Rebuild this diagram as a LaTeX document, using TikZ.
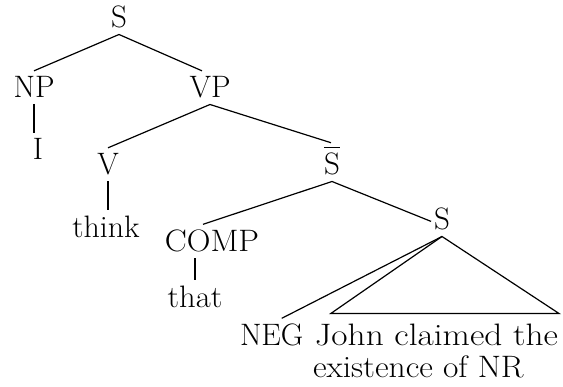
\documentclass[tikz,border=0pt]{standalone}
\usepackage{graphicx}
\usetikzlibrary{calc}
% S with a bar over it, built from text so it scales with the font
\newcommand{\barredS}{\setbox0\hbox{S}\vbox{\hrule width\wd0 height 1.6pt\kern5pt\box0}}
\begin{document}
\begin{tikzpicture}[x=1pt,y=-1pt,
  lab/.style={inner sep=0pt, outer xsep=0pt, outer ysep=6pt, anchor=base,
              font=\fontsize{31}{37}\selectfont},
  branch/.style={line width=1.2pt}]
\useasboundingbox (0,0) rectangle (563,387);
% category labels
\node[lab] (s)     at (119,28)  {S};
\node[lab] (np)    at (34,98)   {NP};
\node[lab] (vp)    at (210,98)  {VP};
\node[lab] (i)     at (38,160)  {I};
\node[lab] (v)     at (108,175) {V};
\node[lab] (think) at (106,238) {\scalebox{1.03}[1]{think}};
\node[lab] (sbar)  at (332,175) {\barredS};
\node[lab] (comp)  at (212,252) {\scalebox{1.06}[1]{COMP}};
\node[lab] (that)  at (195,308) {\scalebox{1.05}[1]{that}};
\node[lab] (s2)    at (442,230) {S};
\node[lab, anchor=base west] (neg)   at (240,346) {NEG};
\node[lab, anchor=base east] (john)  at (558,346) {\scalebox{1.14}[1]{John claimed the}};
\node[lab, anchor=base west] (exist) at (313,378) {\scalebox{1.08}[1]{existence of NR}};
% corners of the roof over the unanalysed constituent
\coordinate (roofl) at ($(john.north west)+(16,-5)$);
\coordinate (roofr) at ($(john.north east)+(1,-5)$);
% branches
\draw[branch] (np.north) -- (s.south) -- ($(vp.north)+(-8,0)$);
\draw[branch] (np.south) -- (np.south |- i.north);
\draw[branch] (v.north) -- (vp.south) -- ($(sbar.north)+(-1,2)$);
\draw[branch] (v.south) -- (v.south |- think.north);
\draw[branch] ($(comp.north)+(-9,0)$) -- (sbar.south) -- ($(s2.west)+(-3,2)$);
\draw[branch] (comp.south -| that.north) -- (that.north);
\draw[branch] ($(neg.north)+(10,0)$) -- (s2.south);
\draw[branch] (s2.south) -- (roofl) -- (roofr) -- cycle;
\end{tikzpicture}
\end{document}
